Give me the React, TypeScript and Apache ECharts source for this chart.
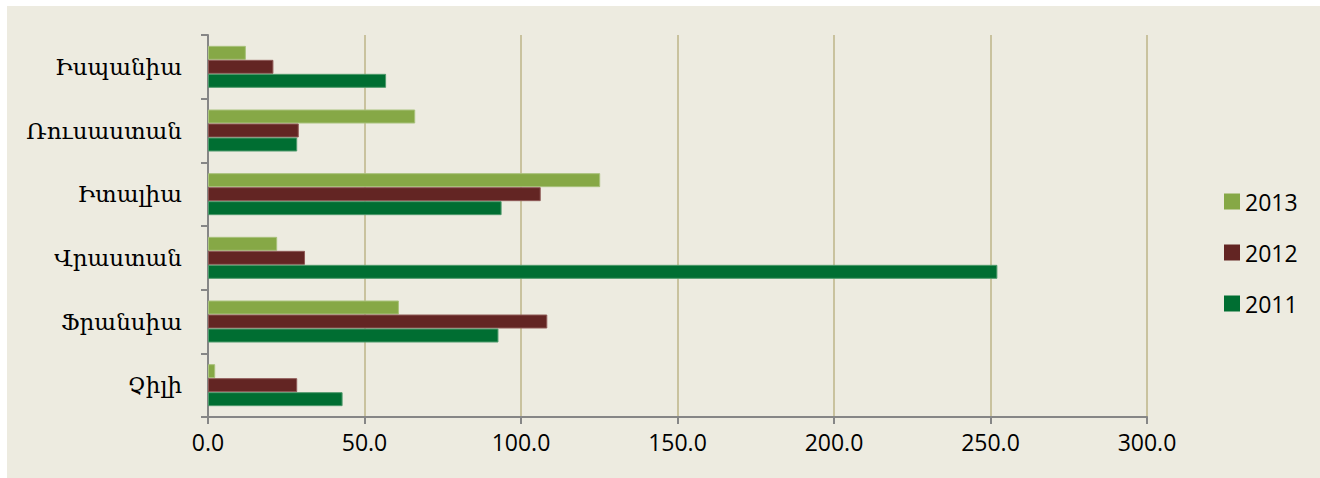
import React, { useEffect, useRef } from "react";
import * as echarts from "echarts";

// Countries, bottom to top along the category axis
const countries = ["Չիլի", "Ֆրանսիա", "Վրաստան", "Իտալիա", "Ռուսաստան", "Իսպանիա"];

// Values per year, same order as countries
const values2011 = [43.0, 92.8, 252.2, 93.8, 28.5, 56.9];
const values2012 = [28.5, 108.4, 31.0, 106.3, 29.0, 20.9];
const values2013 = [2.3, 61.0, 22.1, 125.3, 66.2, 12.1];

// Series listed top-to-bottom inside each band
const years = ["2013", "2012", "2011"];
const colors = ["#86A846", "#632523", "#006E32"];
const borders = ["#a9c27c", "#8f5a57", "#4f9a6c"];

const xMin = 0;
const xMax = 300;
const xStep = 50;

const PANEL = "#EDEBE0";

export default function App() {
  const ref = useRef<HTMLDivElement>(null);

  useEffect(() => {
    if (!ref.current) return;
    document.documentElement.style.background = PANEL;
    document.body.style.margin = "0";
    document.body.style.overflow = "hidden";
    const chart = echarts.init(ref.current, null, { renderer: "svg" });
    const seriesData = [values2013, values2012, values2011];

    chart.setOption({
      animation: false,
      backgroundColor: PANEL,
      grid: { left: 201, right: 173, top: 29, bottom: 61, containLabel: false },
      legend: {
        orient: "vertical",
        left: 1212,
        top: 179,
        itemWidth: 16,
        itemHeight: 16,
        itemGap: 28,
        icon: "rect",
        data: ["2013", "2012", "2011"],
        itemStyle: { borderWidth: 0 },
        textStyle: { fontFamily: "Open Sans", fontSize: 23, color: "#000" },
      },
      xAxis: {
        type: "value",
        min: xMin,
        max: xMax,
        interval: xStep,
        axisLine: { show: true, lineStyle: { color: "#868686", width: 2 } },
        axisTick: { show: true, length: 7, lineStyle: { color: "#868686", width: 2 } },
        axisLabel: {
          fontFamily: "Open Sans",
          fontSize: 23,
          color: "#000",
          margin: 13,
          formatter: (v: number) => v.toFixed(1),
        },
        splitLine: { show: true, lineStyle: { color: "#C9C29E", width: 2 } },
      },
      yAxis: {
        type: "category",
        data: countries,
        axisLine: { show: true, lineStyle: { color: "#868686", width: 2 } },
        axisTick: { show: true, length: 7, lineStyle: { color: "#868686", width: 2 } },
        axisLabel: {
          fontFamily: "DejaVu Serif",
          fontSize: 23,
          color: "#000",
          margin: 26,
        },
      },
      series: years.map((y, i) => ({
        name: y,
        type: "bar",
        data: seriesData[i],
        barWidth: 14,
        barGap: "0%",
        itemStyle: { color: colors[i], borderColor: borders[i], borderWidth: 1 },
      })),
    });

    return () => chart.dispose();
  }, []);

  return (
    <div
      style={{
        width: 1320,
        height: 478,
        boxSizing: "border-box",
        borderLeft: "7px solid #ffffff",
        borderTop: "6px solid #ffffff",
      }}
    >
      <div ref={ref} style={{ width: 1313, height: 472 }} />
    </div>
  );
}
